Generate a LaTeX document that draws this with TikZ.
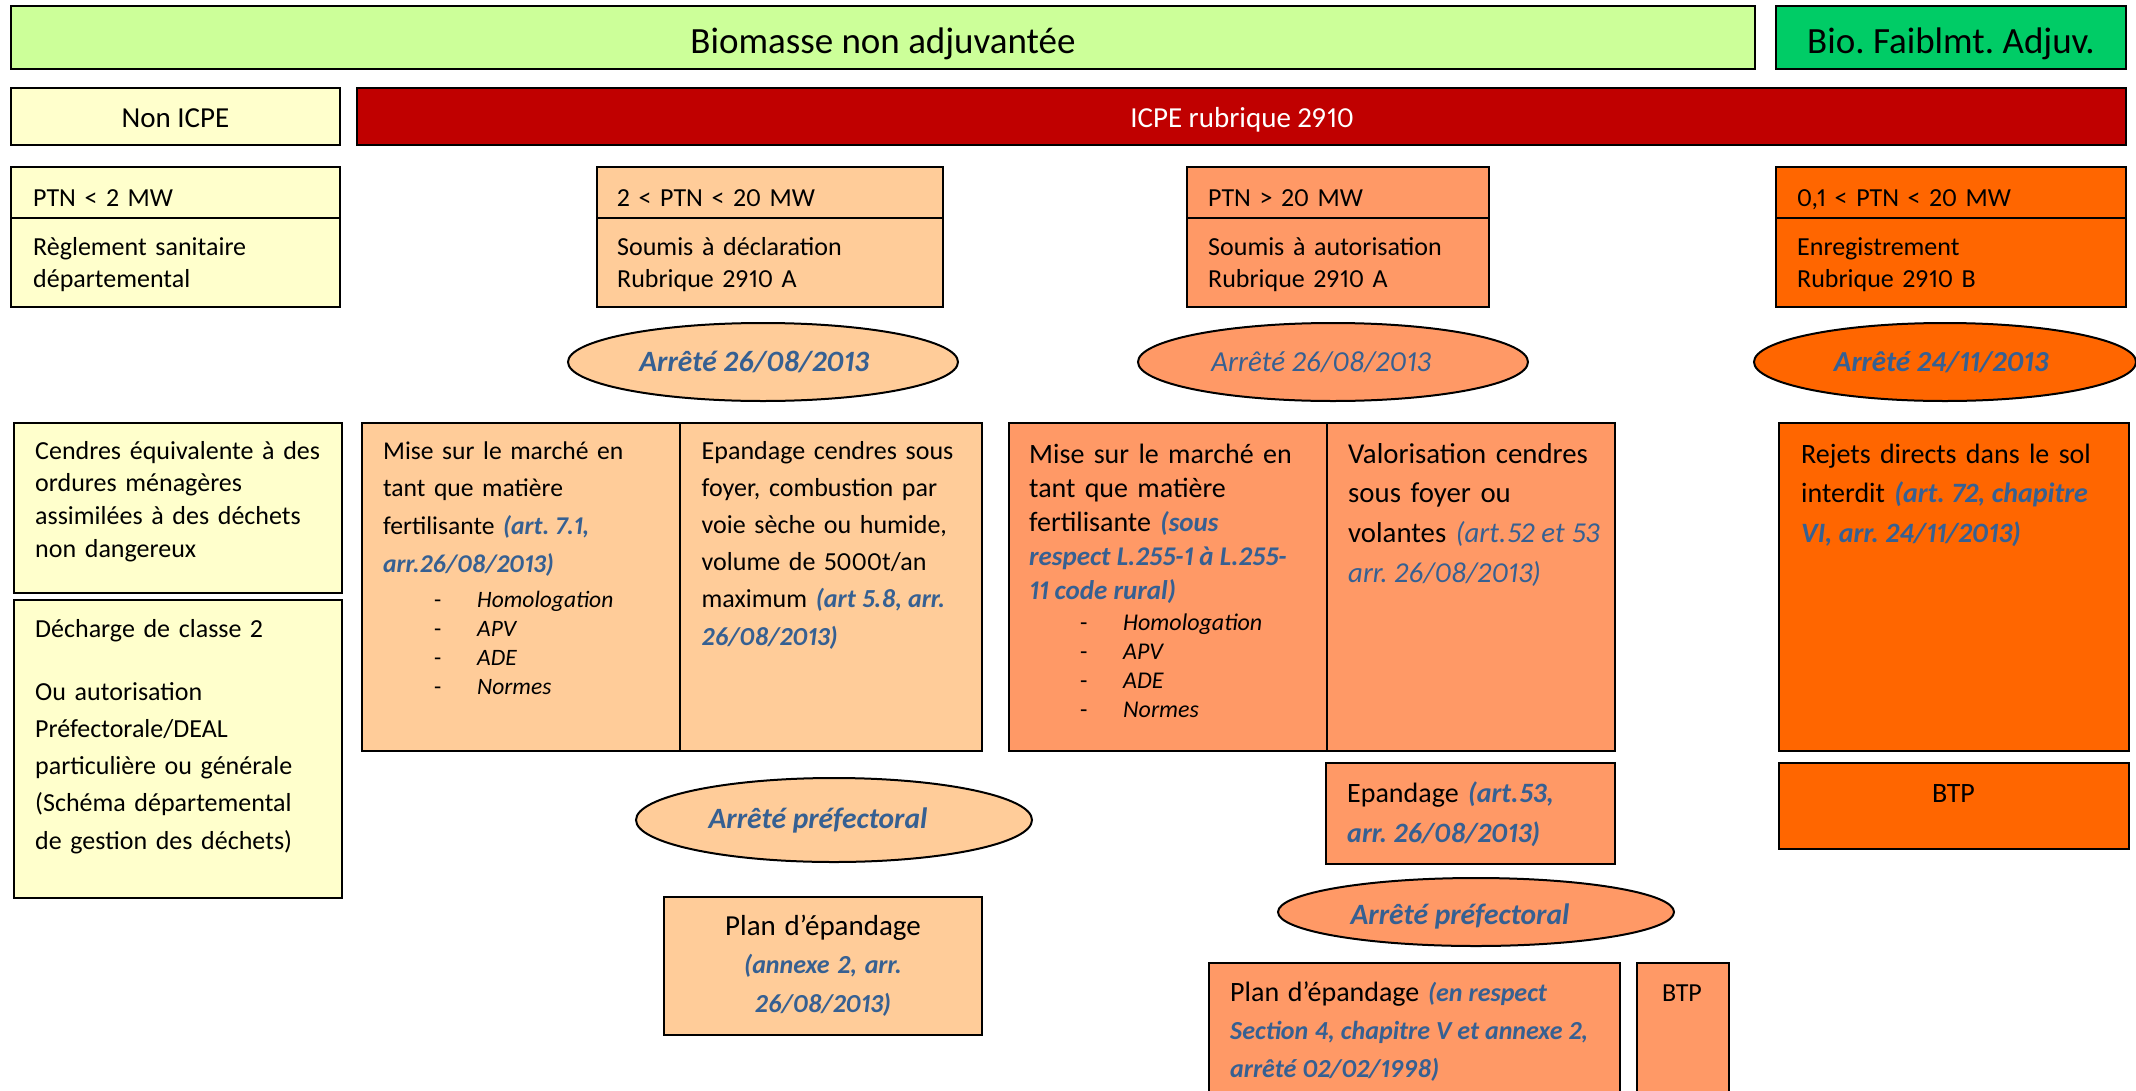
\documentclass[tikz,border=0pt]{standalone}
\usepackage{fontspec}
\setmainfont{Carlito}[Numbers=Proportional]
\usetikzlibrary{shapes.geometric}
\definecolor{lgreen}{HTML}{CCFF99}
\definecolor{dgreen}{HTML}{00CC66}
\definecolor{lyellow}{HTML}{FFFFCC}
\definecolor{dred}{HTML}{C00000}
\definecolor{peachA}{HTML}{FFCC99}
\definecolor{peachB}{HTML}{FF9966}
\definecolor{orangeC}{HTML}{FF6600}
\definecolor{refblue}{HTML}{366092}
\newcommand\fs[2]{\fontsize{#1}{#2}\selectfont}
\newcommand\fixsp{\spaceskip=.23em plus .05em minus .05em\relax\xspaceskip=.23em\relax}
\newcommand\refb[1]{\textcolor{refblue}{\bfseries\itshape\fixsp #1}}
\newcommand\refi[1]{\textcolor{refblue}{\itshape\fixsp #1}}
\tikzset{
  box/.style={draw=black, line width=2pt},
  oval/.style={ellipse, draw=black, line width=2pt, inner sep=0pt},
  txt/.style={anchor=base west, inner sep=0pt, align=left, text width=#1},
  ctxt/.style={anchor=base, inner sep=0pt},
}
\frenchspacing
\begin{document}
\begin{tikzpicture}[x=1pt,y=-1pt]
\useasboundingbox (0,0) rectangle (2136,1090);
\fill[white] (0,0) rectangle (2136,1090);

% Row 1
\path[box, fill=lgreen] (11,6) rectangle (1755,69);
\node[ctxt, font=\fs{37}{42}] (biomasse) at (883,53) {Biomasse non adjuvantée};
\path[box, fill=dgreen] (1776,6) rectangle (2126,69);
\node[ctxt, font=\fs{37}{42}\fixsp] (faible) at (1951,53) {Bio. Faiblmt. Adjuv.};

% Row 2
\path[box, fill=lyellow] (11,88) rectangle (340,145);
\node[ctxt, font=\fs{29}{32}] (nonicpe) at (175.5,127) {Non ICPE};
\path[box, fill=dred] (357,88) rectangle (2126,145);
\node[ctxt, font=\fs{29}{32}, text=white] (icpe) at (1242,127) {ICPE rubrique 2910};

% Row 3
\path[box, fill=lyellow] (11,167) rectangle (340,307);
\draw[box] (11,218) -- (340,218);
\node[txt=300pt, font=\fs{26}{32}] (p1h) at (33,206) {PTN < 2 MW};
\node[txt=300pt, font=\fs{26}{32}] (p1b) at (33,255) {Règlement sanitaire\\départemental};

\path[box, fill=peachA] (597,167) rectangle (943,307);
\draw[box] (597,218) -- (943,218);
\node[txt=320pt, font=\fs{26}{32}] (p2h) at (617,206) {2 < PTN < 20 MW};
\node[txt=320pt, font=\fs{26}{32}] (p2b) at (617,255) {Soumis à déclaration\\Rubrique 2910 A};

\path[box, fill=peachB] (1187,167) rectangle (1489,307);
\draw[box] (1187,218) -- (1489,218);
\node[txt=290pt, font=\fs{26}{32}] (p3h) at (1208,206) {PTN > 20 MW};
\node[txt=290pt, font=\fs{26}{32}] (p3b) at (1208,255) {Soumis à autorisation\\Rubrique 2910 A};

\path[box, fill=orangeC] (1776,167) rectangle (2126,307);
\draw[box] (1776,218) -- (2126,218);
\node[txt=330pt, font=\fs{26}{32}\fixsp] (p4h) at (1797,206) {0,1 < PTN < 20 MW};
\node[txt=330pt, font=\fs{26}{32}] (p4b) at (1797,255) {Enregistrement\\Rubrique 2910 B};

% Row 4 ellipses
\node[oval, fill=peachA, minimum width=390pt, minimum height=78pt] (e1) at (763,362) {};
\node[ctxt, font=\fs{29.5}{32}] (e1t) at (754,371) {\refb{Arrêté 26/08/2013}};
\node[oval, fill=peachB, minimum width=390pt, minimum height=78pt] (e2) at (1333,362) {};
\node[ctxt, font=\fs{29}{32}] (e2t) at (1321,371) {\refi{Arrêté 26/08/2013}};
\node[oval, fill=orangeC, minimum width=382pt, minimum height=78pt] (e3) at (1945,362) {};
\node[ctxt, font=\fs{29}{32}] (e3t) at (1941,371) {\refb{Arrêté 24/11/2013}};

% Row 5
\path[box, fill=lyellow] (14,423) rectangle (342,593);
\node[txt=310pt, font=\fs{26}{32.7}] (cendres) at (35,459) {Cendres équivalente à des\\ordures ménagères\\assimilées à des déchets\\non dangereux};

\path[box, fill=lyellow] (14,600) rectangle (342,898);
\node[txt=310pt, font=\fs{26}{37}] (decharge) at (35,637) {Décharge de classe 2};
\node[txt=310pt, font=\fs{26}{37.3}] (autoris) at (35,700) {Ou autorisation\\Préfectorale/DEAL\\particulière ou générale\\(Schéma départemental\\de gestion des déchets)};

\path[box, fill=peachA] (362,423) rectangle (982,751);
\draw[line width=1.5pt] (680,423) -- (680,751);
\node[txt=300pt, font=\fs{25.6}{37.7}] (mise1) at (383,459) {Mise sur le marché en\\tant que matière\\fertilisante \refb{(art. 7.1,}\\\refb{arr.26/08/2013)}};
\node[txt=20pt, font=\fs{23.5}{29}] (dash1) at (434,607) {-\\-\\-\\-};
\node[txt=200pt, font=\fs{23.5}{29}\itshape] (items1) at (477,607) {Homologation\\APV\\ADE\\Normes};
\node[txt=280pt, font=\fs{26}{37.2}\fixsp] (epand1) at (701.5,459) {Epandage cendres sous\\foyer, combustion par\\voie sèche ou humide,\\volume de 5000t/an\\maximum \refb{(art 5.8, arr.}\\\refb{26/08/2013)}};

\path[box, fill=peachB] (1009,423) rectangle (1615,751);
\draw[line width=1.5pt] (1327,423) -- (1327,751);
\node[txt=300pt, font=\fs{28}{34}] (mise2) at (1029,463) {Mise sur le marché en\\tant que matière\\fertilisante {\fs{27}{34}\refb{(sous}}\\{\fs{27}{34}\refb{respect L.255-1 à L.255-}}\\{\fs{27}{34}\refb{11 code rural)}}};
\node[txt=20pt, font=\fs{24}{29}] (dash2) at (1080,630) {-\\-\\-\\-};
\node[txt=200pt, font=\fs{24}{29}\itshape] (items2) at (1123,630) {Homologation\\APV\\ADE\\Normes};
\node[txt=280pt, font=\fs{28.8}{39.7}] (valor) at (1348,463) {Valorisation cendres\\sous foyer ou\\volantes \refi{(art.52 et 53}\\\refi{arr. 26/08/2013)}};

\path[box, fill=orangeC] (1779,423) rectangle (2129,751);
\node[txt=340pt, font=\fs{28}{39.5}] (rejets) at (1801,463) {Rejets directs dans le sol\\interdit \refb{(art. 72, chapitre}\\\refb{VI, arr. 24/11/2013)}};

% Row 6
\node[oval, fill=peachA, minimum width=396pt, minimum height=84pt] (e4) at (834,820) {};
\node[ctxt, font=\fs{29.5}{32}] (e4t) at (818,828) {\refb{Arrêté préfectoral}};

\path[box, fill=peachB] (1326,763) rectangle (1615,864);
\node[txt=280pt, font=\fs{28}{40}] (epand2) at (1347,802) {Epandage \refb{(art.53,}\\\refb{arr. 26/08/2013)}};

\path[box, fill=orangeC] (1779,763) rectangle (2129,849);
\node[ctxt, font=\fs{28}{32}] (btp1) at (1953.5,802) {BTP};

\node[oval, fill=peachB, minimum width=396pt, minimum height=68pt] (e5) at (1476,912) {};
\node[ctxt, font=\fs{29.5}{32}] (e5t) at (1460,924) {\refb{Arrêté préfectoral}};

% Row 7
\path[box, fill=peachA] (664,897) rectangle (982,1035);
\node[anchor=base, inner sep=0pt, align=center, text width=300pt, font=\fs{26}{38.5}] (plan1) at (823,935) {{\fs{29}{38.5}Plan d’épandage}\\\refb{(annexe 2, arr.}\\\refb{26/08/2013)}};

\path[box, fill=peachB] (1209,963) rectangle (1620,1100);
\node[txt=400pt, font=\fs{26}{38}] (plan2) at (1230,1001) {{\fs{28}{38}Plan d’épandage} \refb{(en respect}\\\refb{Section 4, chapitre V et annexe 2,}\\\refb{arrêté 02/02/1998)}};

\path[box, fill=peachB] (1637,963) rectangle (1729,1100);
\node[txt=80pt, font=\fs{26}{32}] (btp2) at (1662,1001) {BTP};
\end{tikzpicture}
\end{document}
